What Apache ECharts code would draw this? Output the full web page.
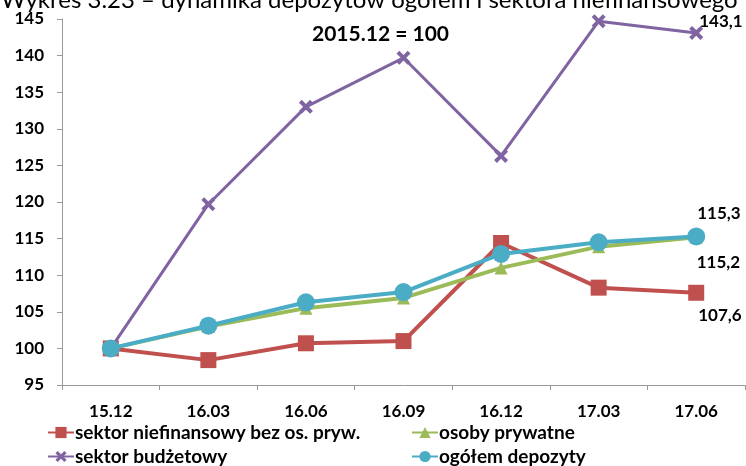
<!DOCTYPE html>
<html>
<head>
<meta charset="utf-8">
<script src="https://cdn.jsdelivr.net/npm/echarts@6/dist/echarts.min.js"></script>
<style>
    html, body { margin: 0; padding: 0; background: #fff; }
    #main { width: 746px; height: 466px; }
</style>
</head>
<body>
<div id="main"></div>
<script>
var categories = ['15.12', '16.03', '16.06', '16.09', '16.12', '17.03', '17.06'];

var nameRed    = 'sektor niefinansowy bez os. pryw.';
var nameGreen  = 'osoby prywatne';
var namePurple = 'sektor budżetowy';
var nameBlue   = 'ogółem depozyty';

var dataRed    = [100, 98.4, 100.7, 101.0, 114.4, 108.3, 107.6];
var dataGreen  = [100, 103.0, 105.5, 106.9, 111.0, 113.9, 115.2];
var dataPurple = [100, 119.7, 133.0, 139.7, 126.3, 144.7, 143.1];
var dataBlue   = [100, 103.1, 106.3, 107.7, 112.9, 114.5, 115.3];

var FONT = 'Lato';
var crossPath = 'path://M0,2 L2,0 L5,3 L8,0 L10,2 L7,5 L10,8 L8,10 L5,7 L2,10 L0,8 L3,5 Z';

// put a value label on the last point only
function lastLabel(arr, offset)
{
    return arr.map(function (v, i) {
        if (i !== arr.length - 1) return v;
        return {
            value: v,
            label: {
                show: true,
                position: 'right',
                distance: 0,
                offset: offset,
                formatter: function (p) { return p.value.toFixed(1).replace('.', ','); },
                color: '#000',
                fontFamily: FONT,
                fontWeight: 'bold',
                fontSize: 17
            }
        };
    });
}

function legendAt(name, left, top)
{
    return {
        data: [name],
        left: left,
        top: top,
        itemWidth: 26,
        itemHeight: 14,
        itemGap: 0,
        textStyle: { color: '#000', fontFamily: FONT, fontWeight: 'bold', fontSize: 19, padding: [0, 0, 0, -4] }
    };
}

document.addEventListener("DOMContentLoaded", function()
{
    var myChart = echarts.init(document.getElementById('main'), null, { renderer: 'canvas' });

    var option = {
        backgroundColor: '#fff',
        animation: false,
        title: [
            {
                text: 'Wykres 3.23 – dynamika depozytów ogółem i sektora niefinansowego',
                left: -4,
                top: -17,
                textStyle: { color: '#000', fontFamily: FONT, fontWeight: 'normal', fontSize: 24 }
            },
            {
                text: '2015.12 = 100',
                left: 307,
                top: 19,
                textStyle: { color: '#000', fontFamily: FONT, fontWeight: 'bold', fontSize: 21 }
            }
        ],
        legend: [
            legendAt(nameRed, 42, 418),
            legendAt(namePurple, 42, 442),
            legendAt(nameGreen, 406, 418),
            legendAt(nameBlue, 406, 442)
        ],
        grid: {
            left: 62,
            right: 1,
            top: 19,
            bottom: 81
        },
        xAxis: {
            type: 'category',
            data: categories,
            boundaryGap: true,
            axisLine: { lineStyle: { color: '#999' } },
            axisTick: { show: true, length: 5, alignWithLabel: false, lineStyle: { color: '#999' } },
            axisLabel: { color: '#000', fontFamily: FONT, fontWeight: 'bold', fontSize: 17, margin: 18 }
        },
        yAxis: {
            type: 'value',
            min: 95,
            max: 145,
            interval: 5,
            splitLine: { show: false },
            axisLine: { show: true, lineStyle: { color: '#999' } },
            axisTick: { show: true, length: 5, lineStyle: { color: '#999' } },
            axisLabel: { color: '#000', fontFamily: FONT, fontWeight: 'bold', fontSize: 17, margin: 18 }
        },
        series: [
            {
                name: nameRed,
                type: 'line',
                data: lastLabel(dataRed, [-6, 23]),
                symbol: 'rect',
                symbolSize: 16,
                z: 2,
                lineStyle: { color: '#C0504D', width: 4 },
                itemStyle: { color: '#C0504D' }
            },
            {
                name: nameGreen,
                type: 'line',
                data: lastLabel(dataGreen, [-6, 25]),
                symbol: 'triangle',
                symbolSize: 13,
                z: 3,
                lineStyle: { color: '#9BBB59', width: 4 },
                itemStyle: { color: '#9BBB59' }
            },
            {
                name: namePurple,
                type: 'line',
                data: lastLabel(dataPurple, [-4, -11]),
                symbol: crossPath,
                symbolSize: 14,
                z: 4,
                lineStyle: { color: '#8064A2', width: 3 },
                itemStyle: { color: '#8064A2' }
            },
            {
                name: nameBlue,
                type: 'line',
                data: lastLabel(dataBlue, [-8, -23]),
                symbol: 'circle',
                symbolSize: 18,
                z: 5,
                lineStyle: { color: '#4BACC6', width: 4 },
                itemStyle: { color: '#4BACC6' }
            }
        ]
    };

    myChart.setOption(option);
    window.addEventListener('resize', myChart.resize);
});
</script>
</body>
</html>
